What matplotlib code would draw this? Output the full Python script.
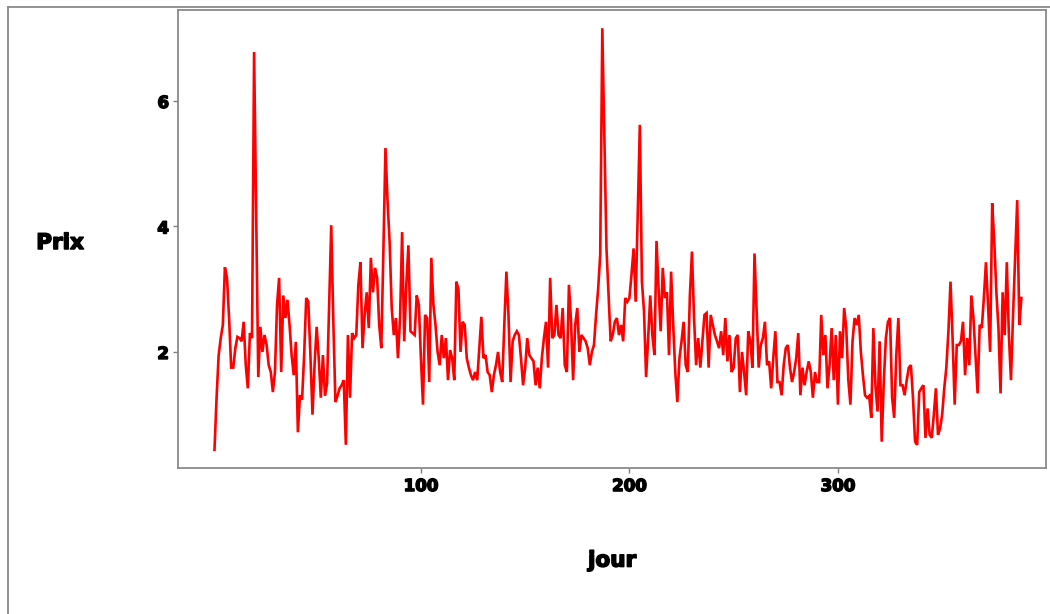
import numpy as np
import matplotlib
matplotlib.use("Agg")
import matplotlib.pyplot as plt
import matplotlib.patheffects as pe
from matplotlib.lines import Line2D

# Daily price series, day 1 .. 388
prix = [
    # days 1-34
    0.44, 1.27, 1.95, 2.22, 2.43, 3.35, 3.18, 2.54, 1.75, 1.75, 2.06, 2.24, 2.22, 2.17, 2.48, 1.79, 1.42,
    2.30, 2.22, 6.78, 4.18, 1.60, 2.40, 2.00, 2.27, 2.11, 1.79, 1.68, 1.36, 1.68, 2.75, 3.18, 1.68, 2.90,
    # days 35-70
    2.54, 2.83, 2.43, 1.95, 1.63, 2.16, 0.72, 1.31, 1.24, 1.95, 2.86, 2.80, 1.95, 1.00, 1.79, 2.40, 1.90,
    1.27, 1.95, 1.30, 1.50, 2.75, 4.02, 2.48, 1.20, 1.30, 1.42, 1.47, 1.55, 0.52, 2.27, 1.27, 2.30, 2.22,
    2.27, 3.07,
    # days 71-106
    3.43, 2.06, 2.59, 2.95, 2.38, 3.50, 2.95, 3.34, 3.18, 2.43, 2.06, 3.60, 5.25, 4.40, 3.75, 2.70, 2.27,
    2.54, 1.90, 2.54, 3.91, 2.17, 3.07, 3.70, 2.33, 2.30, 2.27, 2.90, 2.75, 1.90, 1.16, 2.59, 2.54, 1.52,
    3.50, 2.75,
    # days 107-141
    2.43, 2.00, 1.79, 2.27, 1.90, 2.22, 1.55, 2.03, 1.90, 1.55, 3.12, 3.00, 2.00, 2.48, 2.43, 1.90, 1.75,
    1.63, 1.55, 1.68, 1.55, 2.06, 2.56, 1.90, 1.95, 1.68, 1.63, 1.36, 1.63, 1.79, 2.00, 1.68, 1.52, 2.43,
    3.28,
    # days 142-177
    2.59, 1.52, 2.17, 2.27, 2.33, 2.27, 1.90, 1.47, 1.75, 2.22, 1.95, 1.90, 1.85, 1.47, 1.75, 1.42, 1.90,
    2.22, 2.48, 1.75, 3.18, 2.22, 2.27, 2.75, 2.27, 2.22, 2.70, 1.79, 1.68, 3.07, 2.48, 1.55, 2.43, 2.70,
    2.00, 2.27,
    # days 178-213
    2.22, 2.17, 2.06, 1.79, 2.00, 2.11, 2.59, 3.00, 3.55, 7.16, 5.40, 3.65, 2.90, 2.17, 2.27, 2.48, 2.54,
    2.27, 2.43, 2.17, 2.86, 2.80, 2.86, 3.23, 3.65, 2.80, 4.18, 5.62, 3.12, 2.65, 1.60, 2.22, 2.90, 2.27,
    1.95, 3.77,
    # days 214-249
    3.00, 2.33, 3.34, 2.86, 2.95, 1.95, 3.28, 2.43, 1.68, 1.20, 1.90, 2.17, 2.48, 1.79, 1.68, 2.90, 3.60,
    2.54, 1.79, 2.22, 1.75, 2.17, 2.59, 2.62, 1.75, 2.59, 2.43, 2.27, 2.17, 2.06, 2.33, 1.95, 2.54, 1.85,
    2.27, 1.68,
    # days 250-285
    1.75, 2.22, 2.27, 1.36, 2.00, 1.68, 1.31, 2.33, 2.17, 1.75, 3.57, 2.65, 1.75, 2.11, 2.22, 2.48, 1.79,
    1.85, 1.42, 1.90, 2.33, 1.52, 1.52, 1.31, 1.79, 2.06, 2.11, 1.75, 1.52, 1.68, 1.90, 2.30, 1.31, 1.75,
    1.47, 1.68,
    # days 286-321
    1.85, 1.68, 1.27, 1.68, 1.52, 1.52, 2.59, 1.95, 2.27, 1.42, 1.79, 2.38, 1.55, 2.27, 1.16, 2.33, 1.90,
    2.70, 2.38, 1.55, 1.16, 2.17, 2.54, 2.43, 2.59, 2.00, 1.63, 1.31, 1.27, 1.30, 0.95, 2.38, 1.47, 1.05,
    2.17, 0.57,
    # days 322-357
    1.52, 2.22, 2.48, 2.54, 1.27, 0.95, 1.95, 2.54, 1.47, 1.47, 1.31, 1.55, 1.75, 1.79, 1.27, 0.57, 0.52,
    1.36, 1.42, 1.47, 0.63, 1.10, 0.68, 0.63, 1.00, 1.42, 0.68, 0.78, 1.00, 1.42, 1.75, 2.33, 3.12, 2.22,
    1.16, 2.11,
    # days 358-388
    2.11, 2.17, 2.48, 1.63, 2.22, 1.79, 2.90, 2.54, 1.95, 1.34, 2.43, 2.38, 2.86, 3.43, 2.75, 2.00, 4.37,
    3.75, 2.95, 2.38, 1.34, 2.95, 2.27, 3.43, 2.27, 1.55, 2.59, 3.50, 4.42, 2.43, 2.86,
]
jour = np.arange(1, len(prix) + 1)

x_ticks = [100, 200, 300]
y_ticks = [2, 4, 6]

W, H, DPI = 1050, 614, 100
fig = plt.figure(figsize=(W / DPI, H / DPI), dpi=DPI, facecolor="white")

# panel placement in pixels
left_px, right_px, top_px, bottom_px = 178, 1046, 10, 468
ax = fig.add_axes([left_px / W, 1 - bottom_px / H,
                   (right_px - left_px) / W, (bottom_px - top_px) / H])
ax.set_facecolor("white")

ax.plot(jour, prix, color="#ff0000", linewidth=1.9, solid_joinstyle="miter")

ax.set_xlim(-16.5, 399.8)
ax.set_ylim(0.15, 7.45)
ax.set_xticks(x_ticks)
ax.set_yticks(y_ticks)

# heavy lettering: bold face with a thin outline of the same colour
heavy = [pe.withStroke(linewidth=1.1, foreground="black")]

tick_font = dict(family="DejaVu Sans", weight="bold", size=12)
ax.set_xticklabels([str(t) for t in x_ticks], fontdict=tick_font)
ax.set_yticklabels([str(t) for t in y_ticks], fontdict=tick_font)
for lab in ax.get_xticklabels() + ax.get_yticklabels():
    lab.set_path_effects(heavy)
ax.tick_params(axis="both", length=3.5, width=1, color="#7f7f7f", pad=3,
               labelcolor="black")

for sp in ax.spines.values():
    sp.set_color("#8a8a8a")
    sp.set_linewidth(1.3)

label_font = dict(family="DejaVu Sans", weight="bold", size=15.5)
ax.set_xlabel("jour", fontdict=label_font, labelpad=40)
ax.set_ylabel("Prix", fontdict=label_font, rotation=0, ha="center", va="center")
ax.xaxis.label.set_path_effects(heavy)
ax.yaxis.label.set_path_effects(heavy)
ax.yaxis.set_label_coords((60 - left_px) / (right_px - left_px),
                          (bottom_px - 243) / (bottom_px - top_px))

# outer frame around the whole graphic
fig.add_artist(Line2D([8 / W, 8 / W], [0, 1 - 7 / H], transform=fig.transFigure,
                      color="#8a8a8a", linewidth=1.3))
fig.add_artist(Line2D([8 / W, 1], [1 - 7 / H, 1 - 7 / H], transform=fig.transFigure,
                      color="#8a8a8a", linewidth=1.3))

fig.savefig("out.png", dpi=DPI, facecolor="white")
